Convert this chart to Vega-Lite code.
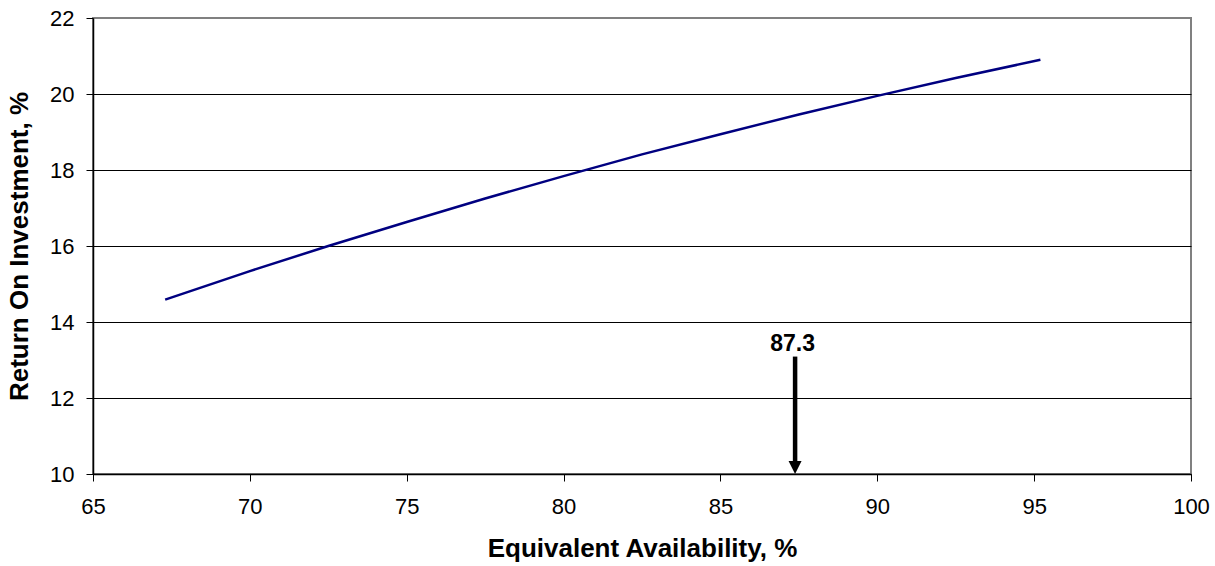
{
  "$schema": "https://vega.github.io/schema/vega-lite/v6.json",
  "autosize": "none",
  "width": 1098,
  "height": 456,
  "padding": {"left": 93, "top": 18, "right": 24, "bottom": 92},
  "background": "white",
  "config": {
    "font": "Liberation Sans",
    "view": {"stroke": "#808080", "strokeWidth": 2},
    "axis": {
      "labelFont": "Liberation Sans",
      "titleFont": "Liberation Sans",
      "labelColor": "black",
      "titleColor": "black",
      "domainColor": "black",
      "tickColor": "black",
      "labelFontSize": 22,
      "titleFontSize": 26,
      "titleFontWeight": "bold",
      "tickSize": 7,
      "domainWidth": 1.5,
      "labelFlush": false
    }
  },
  "datasets": {
    "curve": [
      {"ea": 67.3, "roi": 14.59},
      {"ea": 70, "roi": 15.34},
      {"ea": 72.5, "roi": 16.0},
      {"ea": 75, "roi": 16.63},
      {"ea": 77.5, "roi": 17.25},
      {"ea": 80, "roi": 17.84},
      {"ea": 82.5, "roi": 18.41},
      {"ea": 85, "roi": 18.94},
      {"ea": 87.5, "roi": 19.46},
      {"ea": 90, "roi": 19.95},
      {"ea": 92.5, "roi": 20.42},
      {"ea": 95.2, "roi": 20.9}
    ],
    "marker": [
      {"ea": 87.3, "arrowX": 87.38, "top": 13.09, "bottom": 10.3, "tip": 10, "labelY": 13.23, "label": "87.3"}
    ]
  },
  "layer": [
    {
      "data": {"name": "curve"},
      "mark": {"type": "line", "color": "#000080", "strokeWidth": 2.5},
      "encoding": {
        "x": {
          "field": "ea", "type": "quantitative",
          "scale": {"domain": [65, 100], "nice": false, "zero": false},
          "axis": {
            "title": "Equivalent Availability, %",
            "values": [65, 70, 75, 80, 85, 90, 95, 100],
            "grid": false,
            "labelFlush": false,
            "labelPadding": 15,
            "titlePadding": 18
          }
        },
        "y": {
          "field": "roi", "type": "quantitative",
          "scale": {"domain": [10, 22], "nice": false, "zero": false},
          "axis": {
            "title": "Return On Investment, %",
            "values": [10, 12, 14, 16, 18, 20, 22],
            "grid": true,
            "gridColor": {"condition": {"test": "datum.value === 22", "value": "transparent"}, "value": "black"},
            "gridWidth": 1,
            "labelPadding": 12,
            "titlePadding": 17
          }
        }
      }
    },
    {
      "data": {"name": "marker"},
      "mark": {"type": "rule", "color": "black", "strokeWidth": 4.5},
      "encoding": {
        "x": {"field": "arrowX", "type": "quantitative"},
        "y": {"field": "top", "type": "quantitative"},
        "y2": {"field": "bottom"}
      }
    },
    {
      "data": {"name": "marker"},
      "mark": {"type": "point", "shape": "M-0.5,-1L0.5,-1L0,0Z", "filled": true, "color": "black", "size": 676, "opacity": 1, "strokeWidth": 0},
      "encoding": {
        "x": {"field": "arrowX", "type": "quantitative"},
        "y": {"field": "tip", "type": "quantitative"}
      }
    },
    {
      "data": {"name": "marker"},
      "mark": {"type": "text", "font": "Liberation Sans", "fontSize": 23, "fontWeight": "bold", "color": "black", "align": "center", "baseline": "alphabetic"},
      "encoding": {
        "x": {"field": "ea", "type": "quantitative"},
        "y": {"field": "labelY", "type": "quantitative"},
        "text": {"field": "label"}
      }
    }
  ]
}
